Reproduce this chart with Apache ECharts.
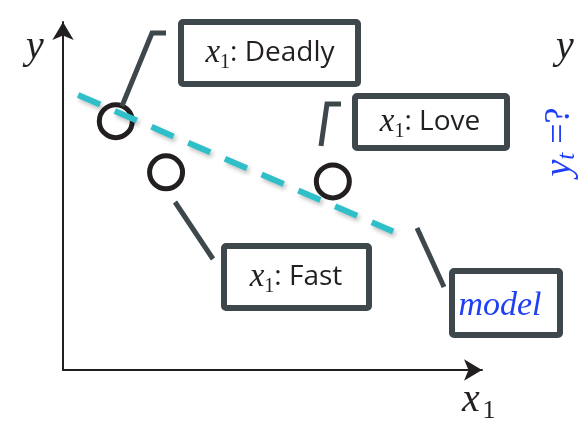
<!DOCTYPE html>
<html>
<head>
<meta charset="utf-8">
<script src="https://cdn.jsdelivr.net/npm/echarts@6/dist/echarts.min.js"></script>
<style>
  html, body { margin: 0; padding: 0; background: #fff; }
  #chart { width: 583px; height: 421px; }
</style>
</head>
<body>
<div id="chart"></div>
<script>
// words placed on the x1 / y plane
const wordLabels = ['Deadly', 'Fast', 'Love']
const wordX = [1.26, 2.46, 6.44]
const wordY = [7.15, 5.68, 5.42]

// the dashed "model" line, two ends
const modelX = [0.36, 7.88]
const modelY = [7.90, 3.98]

const INK = '#231f20'
const SLATE = '#3d474c'
const TEAL = '#2fbfc9'
const BLUE = '#1f3ff5'
const SERIF = '"Liberation Serif", "DejaVu Serif", serif'
const SANS = '"Open Sans", "Noto Sans", sans-serif'

const chart = echarts.init(document.getElementById('chart'), null, { renderer: 'canvas' })

const labelRich = {
  v: { fontFamily: SERIF, fontStyle: 'italic', fontSize: 33, fill: INK },
  s: { fontFamily: SERIF, fontSize: 20, fill: INK, padding: [20, 0, 0, 0] },
  w: { fontFamily: SANS, fontSize: 28, fill: INK }
}

function box(x, y, w, h) {
  return {
    type: 'rect',
    shape: { x, y, width: w, height: h, r: 2 },
    style: { fill: '#fff', stroke: SLATE, lineWidth: 6 },
    z: 10
  }
}

function wordText(word, cx, cy) {
  return {
    type: 'text',
    x: cx,
    y: cy,
    style: {
      text: `{v|x}{s|1}{w|: ${word}}`,
      rich: labelRich,
      align: 'center',
      verticalAlign: 'middle'
    },
    z: 11
  }
}

function connector(points) {
  return {
    type: 'polyline',
    shape: { points },
    style: { stroke: SLATE, lineWidth: 5, fill: null },
    z: 9
  }
}

const option = {
  animation: false,
  grid: { left: 63, right: 101, top: 22, bottom: 51 },
  xAxis: {
    type: 'value',
    min: 0,
    max: 10,
    axisLine: {
      show: true,
      symbol: ['none', 'arrow'],
      symbolSize: [16, 18],
      lineStyle: { color: INK, width: 2 }
    },
    axisTick: { show: false },
    axisLabel: { show: false },
    splitLine: { show: false }
  },
  yAxis: {
    type: 'value',
    min: 0,
    max: 10,
    axisLine: {
      show: true,
      symbol: ['none', 'arrow'],
      symbolSize: [16, 18],
      lineStyle: { color: INK, width: 2 }
    },
    axisTick: { show: false },
    axisLabel: { show: false },
    splitLine: { show: false }
  },
  series: [
    {
      name: 'words',
      type: 'scatter',
      symbol: 'circle',
      symbolSize: 33,
      data: wordLabels.map((w, i) => ({ name: w, value: [wordX[i], wordY[i]] })),
      itemStyle: { color: 'rgba(0,0,0,0)', borderColor: INK, borderWidth: 5, opacity: 1 },
      z: 3
    },
    {
      name: 'model',
      type: 'line',
      showSymbol: false,
      data: modelX.map((x, i) => [x, modelY[i]]),
      lineStyle: {
        color: TEAL,
        width: 6,
        type: [24, 16],
        cap: 'butt',
        opacity: 1,
        shadowColor: 'rgba(0,0,0,0.25)',
        shadowBlur: 4,
        shadowOffsetX: 2,
        shadowOffsetY: 3
      },
      z: 4
    }
  ],
  graphic: [
    // axis names
    { type: 'text', x: 35, y: 47, style: { text: 'y', fontFamily: SERIF, fontStyle: 'italic', fontSize: 40, fill: INK, align: 'center', verticalAlign: 'middle' } },
    { type: 'text', x: 471, y: 400, style: { text: 'x', fontFamily: SERIF, fontStyle: 'italic', fontSize: 40, fill: INK, align: 'center', verticalAlign: 'middle' } },
    { type: 'text', x: 489, y: 411, style: { text: '1', fontFamily: SERIF, fontSize: 26, fill: INK, align: 'center', verticalAlign: 'middle' } },
    { type: 'text', x: 565, y: 47, style: { text: 'y', fontFamily: SERIF, fontStyle: 'italic', fontSize: 40, fill: INK, align: 'center', verticalAlign: 'middle' } },
    {
      type: 'text',
      x: 560,
      y: 142,
      rotation: Math.PI / 2,
      style: {
        text: '{v|y}{s|t}{w| =?}',
        rich: {
          v: { fontFamily: SERIF, fontStyle: 'italic', fontSize: 38, fill: BLUE },
          s: { fontFamily: SERIF, fontStyle: 'italic', fontSize: 25, fill: BLUE, padding: [14, 0, 0, 0] },
          w: { fontFamily: SERIF, fontSize: 36, fill: BLUE }
        },
        align: 'center',
        verticalAlign: 'middle'
      }
    },

    // connectors from the words to their boxes
    connector([[122, 106], [152, 33], [166, 33]]),
    connector([[321, 146], [327, 104], [341, 104]]),
    connector([[175, 202], [213, 259]]),
    connector([[417, 228], [444, 287]]),

    // word boxes
    box(181, 22, 177, 62),
    wordText('Deadly', 270, 53),
    box(355, 96, 152, 52),
    wordText('Love', 430, 122),
    box(224, 246, 145, 62),
    wordText('Fast', 296, 277),
    box(452, 271, 108, 64),
    {
      type: 'text',
      x: 500,
      y: 306,
      style: { text: 'model', fontFamily: SERIF, fontStyle: 'italic', fontSize: 34, fill: BLUE, align: 'center', verticalAlign: 'middle' },
      z: 11
    }
  ]
}

chart.setOption(option)
</script>
</body>
</html>
